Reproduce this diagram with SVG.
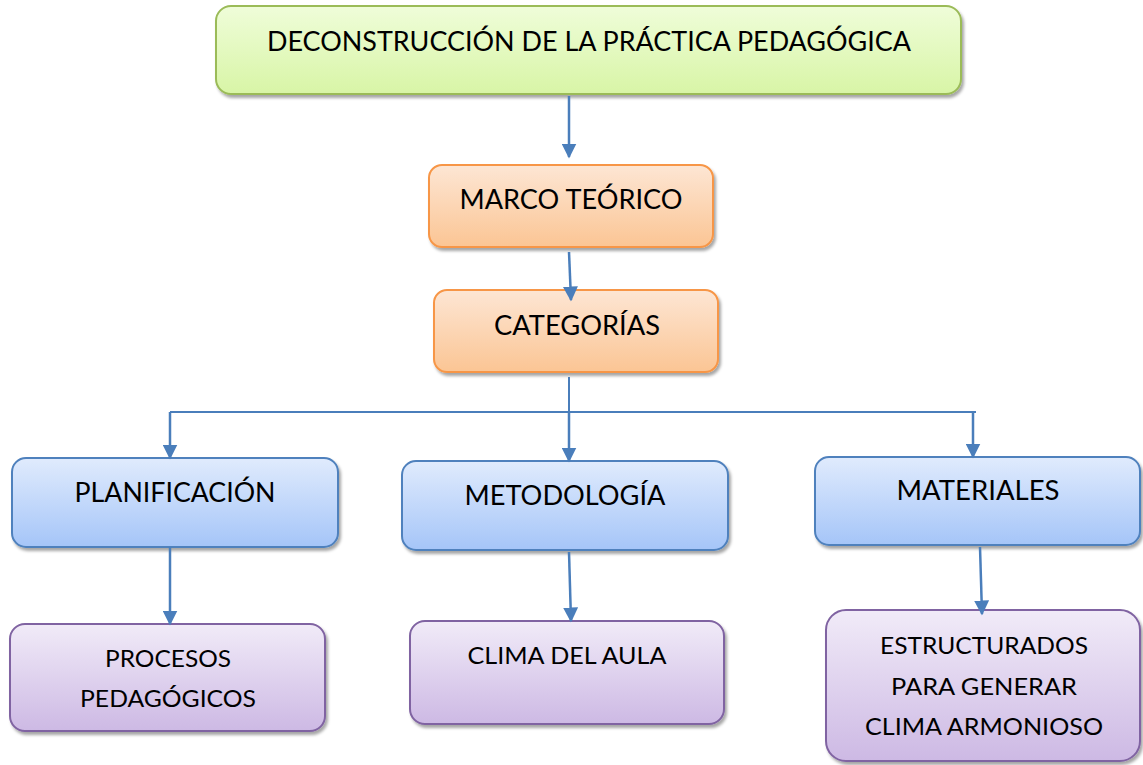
<svg xmlns="http://www.w3.org/2000/svg" width="1143" height="765" viewBox="0 0 1143 765">
<defs>
<linearGradient id="gGreen" x1="0" y1="0" x2="0" y2="1"><stop offset="0" stop-color="#effdd9"/><stop offset="1" stop-color="#d8f5a6"/></linearGradient>
<linearGradient id="gOrange" x1="0" y1="0" x2="0" y2="1"><stop offset="0" stop-color="#fde6d4"/><stop offset="1" stop-color="#fbc594"/></linearGradient>
<linearGradient id="gBlue" x1="0" y1="0" x2="0" y2="1"><stop offset="0" stop-color="#e0ebfd"/><stop offset="1" stop-color="#a5c5f8"/></linearGradient>
<linearGradient id="gPurple" x1="0" y1="0" x2="0" y2="1"><stop offset="0" stop-color="#f1ebf8"/><stop offset="1" stop-color="#cdb9e4"/></linearGradient>
<filter id="sh" x="-5%" y="-10%" width="115%" height="130%"><feDropShadow dx="2" dy="3" stdDeviation="1.5" flood-color="#000" flood-opacity="0.35"/></filter>
<marker id="ah" viewBox="0 0 10 10" refX="9" refY="5" markerWidth="6" markerHeight="6" orient="auto" markerUnits="strokeWidth"><path d="M0,0 L10,5 L0,10 z" fill="#4a7ebb"/></marker>
</defs>
<style>
.box{filter:url(#sh);stroke-width:2}
.green{fill:url(#gGreen);stroke:#9bbb59}
.orange{fill:url(#gOrange);stroke:#f79646}
.blue{fill:url(#gBlue);stroke:#4f81bd}
.purple{fill:url(#gPurple);stroke:#8064a2}
text{font-family:Lato,"Open Sans","Liberation Sans",sans-serif;fill:#000;text-anchor:middle}
.big{font-size:27px}
.mid{font-size:24px}
.con{fill:none;stroke:#4a7ebb;stroke-width:2.5}
</style>
<g id="deconstruccion">
<rect class="box green" x="216" y="6" width="745" height="88" rx="15"/>
<text class="big" x="589" y="51" textLength="644" lengthAdjust="spacingAndGlyphs">DECONSTRUCCIÓN DE LA PRÁCTICA PEDAGÓGICA</text>
</g>
<g id="marco">
<rect class="box orange" x="429" y="165" width="284" height="82" rx="13"/>
<text class="big" x="571" y="209" textLength="223" lengthAdjust="spacingAndGlyphs">MARCO TEÓRICO</text>
</g>
<g id="categorias">
<rect class="box orange" x="434" y="290" width="284" height="82" rx="13"/>
<text class="big" x="577" y="335" textLength="166" lengthAdjust="spacingAndGlyphs">CATEGORÍAS</text>
</g>
<g id="planificacion">
<rect class="box blue" x="12" y="458" width="326" height="89" rx="14"/>
<text class="big" x="175" y="502" textLength="201" lengthAdjust="spacingAndGlyphs">PLANIFICACIÓN</text>
</g>
<g id="metodologia">
<rect class="box blue" x="402" y="461" width="326" height="89" rx="14"/>
<text class="big" x="565" y="505" textLength="201" lengthAdjust="spacingAndGlyphs">METODOLOGÍA</text>
</g>
<g id="materiales">
<rect class="box blue" x="815" y="457" width="325" height="88" rx="14"/>
<text class="big" x="978" y="500" textLength="163" lengthAdjust="spacingAndGlyphs">MATERIALES</text>
</g>
<g id="procesos">
<rect class="box purple" x="10" y="624" width="315" height="107" rx="15"/>
<text class="mid" x="168" y="667" textLength="126" lengthAdjust="spacingAndGlyphs">PROCESOS</text>
<text class="mid" x="168" y="707" textLength="176" lengthAdjust="spacingAndGlyphs">PEDAGÓGICOS</text>
</g>
<g id="clima">
<rect class="box purple" x="410" y="621" width="314" height="103" rx="15"/>
<text class="mid" x="567" y="664" textLength="199" lengthAdjust="spacingAndGlyphs">CLIMA DEL AULA</text>
</g>
<g id="estructurados">
<rect class="box purple" x="826" y="610" width="314" height="151" rx="20"/>
<text class="mid" x="984" y="654" textLength="208" lengthAdjust="spacingAndGlyphs">ESTRUCTURADOS</text>
<text class="mid" x="984" y="695" textLength="186" lengthAdjust="spacingAndGlyphs">PARA GENERAR</text>
<text class="mid" x="984" y="735" textLength="238" lengthAdjust="spacingAndGlyphs">CLIMA ARMONIOSO</text>
</g>
<g id="connectors">
<path class="con" d="M569,96 L569,157" marker-end="url(#ah)"/>
<path class="con" d="M569,252 L571,300" marker-end="url(#ah)"/>
<path class="con" style="stroke-width:2" d="M569,377 L569,412 M170,412 L976,412"/>
<path class="con" d="M170,412 L170,458" marker-end="url(#ah)"/>
<path class="con" d="M569,412 L569,461" marker-end="url(#ah)"/>
<path class="con" d="M973,412 L973,457" marker-end="url(#ah)"/>
<path class="con" d="M170,547 L170,624" marker-end="url(#ah)"/>
<path class="con" d="M569,552 L571,621" marker-end="url(#ah)"/>
<path class="con" d="M980,547 L982,614" marker-end="url(#ah)"/>
</g>
</svg>
